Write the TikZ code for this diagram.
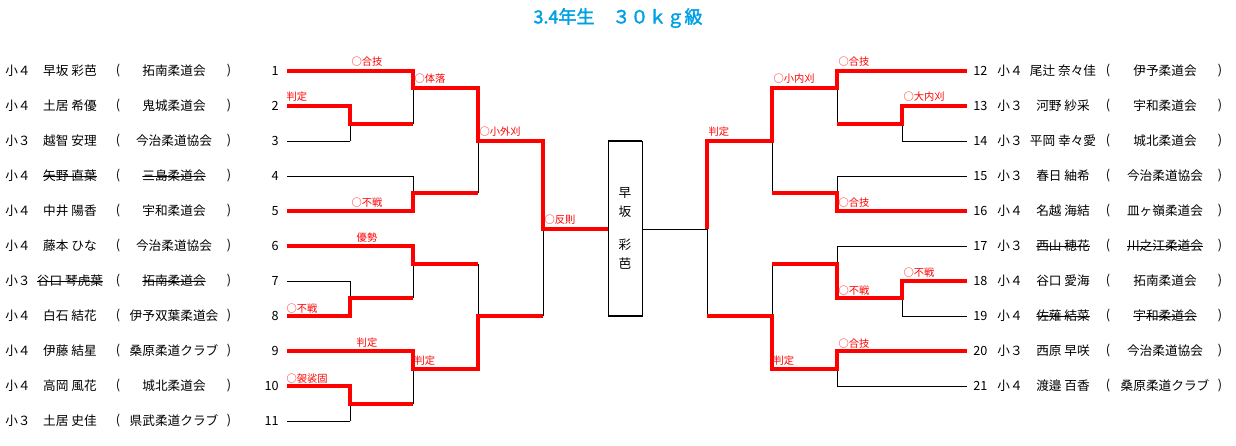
\documentclass[tikz,border=0pt]{standalone}
\usepackage{fontspec}
\setmainfont{Noto Sans CJK JP}[BoldFont=Noto Sans CJK JP,BoldFeatures={FakeBold=2}]
\definecolor{wincol}{RGB}{255,0,0}
\definecolor{titlecol}{RGB}{0,160,230}
\tikzset{
  loser/.style={line width=0.6pt},
  winner/.style={wincol, line width=2.3pt, line join=miter},
  cell/.style={inner sep=0pt, font=\fontsize{9.5}{10}\selectfont},
  plain/.style={},
  struck/.style={path picture={\draw[line width=0.6pt] (path picture bounding box.west) -- (path picture bounding box.east);}},
  how/.style={wincol, inner sep=1pt, font=\fontsize{7.7}{8}\selectfont},
}
\begin{document}
\begin{tikzpicture}[x=0.75pt,y=-0.75pt]
        \useasboundingbox (0,0) rectangle (1236,446);

        \node[titlecol, font=\fontsize{13.5}{15}\selectfont\bfseries] (title) at (618,18) {3.4年生　３０ｋｇ級};

        % left side entries
        \foreach \n/\y/\g/\nm/\cl/\s in {1/71/小４/早坂 彩芭/拓南柔道会/plain, 2/106/小４/土居 希優/鬼城柔道会/plain,
            3/141/小３/越智 安理/今治柔道協会/plain, 4/176/小４/矢野 直葉/三島柔道会/struck,
            5/211/小４/中井 陽香/宇和柔道会/plain, 6/246/小４/藤本 ひな/今治柔道協会/plain,
            7/281/小３/谷口 琴虎葉/拓南柔道会/struck, 8/316/小４/白石 結花/伊予双葉柔道会/plain,
            9/351/小４/伊藤 結星/桑原柔道クラブ/plain, 10/386/小４/高岡 風花/城北柔道会/plain,
            11/421/小３/土居 史佳/県武柔道クラブ/plain} {
            \node[cell] (g\n) at (18,\y) {\g};
            \node[cell,\s] (nm\n) at (70,\y) {\nm};
            \node[cell] at (118,\y) {(};
            \node[cell,\s] (cl\n) at (174,\y) {\cl};
            \node[cell] at (229,\y) {)};
            \node[cell, anchor=east] (no\n) at (279,\y) {\n};
        }

        % right side entries
        \foreach \n/\y/\g/\nm/\cl/\s in {12/71/小４/尾辻 奈々佳/伊予柔道会/plain, 13/106/小３/河野 紗采/宇和柔道会/plain,
            14/141/小３/平岡 幸々愛/城北柔道会/plain, 15/176/小３/春日 紬希/今治柔道協会/plain,
            16/211/小４/名越 海結/皿ヶ嶺柔道会/plain, 17/246/小３/西山 穂花/川之江柔道会/struck,
            18/281/小４/谷口 愛海/拓南柔道会/plain, 19/316/小４/佐薙 結菜/宇和柔道会/struck,
            20/351/小３/西原 早咲/今治柔道協会/plain, 21/386/小４/渡邉 百香/桑原柔道クラブ/plain} {
            \node[cell, anchor=west] (no\n) at (973,\y) {\n};
            \node[cell] (g\n) at (1010,\y) {\g};
            \node[cell,\s] (nm\n) at (1063,\y) {\nm};
            \node[cell] at (1108,\y) {(};
            \node[cell,\s] (cl\n) at (1165,\y) {\cl};
            \node[cell] at (1220,\y) {)};
        }

        % thin bracket lines
        \foreach \y/\xe in {71/413,106/350,141/350,176/413,211/413,246/413,281/350,316/350,351/413,386/350,421/350}
            \draw[loser] (287,\y) -- (\xe,\y);
        \foreach \y/\xs in {71/837,106/902,141/902,176/837,211/837,246/837,281/902,316/902,351/837,386/837}
            \draw[loser] (\xs,\y) -- (967,\y);
        \foreach \x/\ya/\yb in {350/106/141,413/71/124,413/176/211,478/88/193,350/281/316,413/246/298,350/386/421,
            413/351/404,478/264/369,543/141/316,902/106/141,837/71/124,837/176/211,772/88/193,902/281/316,
            837/246/298,837/351/386,772/264/369,707/141/316}
            \draw[loser] (\x,\ya) -- (\x,\yb);

        % final box
        \draw[loser] (608,141) rectangle (642,316);
        \draw[line width=1.8pt] (608,141) -- (642,141);
        \draw[line width=1.8pt] (608,316) -- (642,316);
        \node[cell] (c1) at (625,193) {早};
        \node[cell] (c2) at (625,212) {坂};
        \node[cell] (c3) at (625,245) {彩};
        \node[cell] (c4) at (625,264) {芭};
        \draw[loser] (642,229) -- (707,229);

        % winners, left
        \draw[winner] (287,71) -- (413,71) -- (413,88) -- (478,88) -- (478,141) -- (543,141) -- (543,229) -- (608,229);
        \draw[winner] (287,106) -- (350,106) -- (350,124) -- (413,124);
        \draw[winner] (287,211) -- (413,211) -- (413,193) -- (478,193);
        \draw[winner] (287,246) -- (413,246) -- (413,264) -- (478,264);
        \draw[winner] (287,316) -- (350,316) -- (350,298) -- (413,298);
        \draw[winner] (287,351) -- (413,351) -- (413,369) -- (478,369) -- (478,316) -- (543,316);
        \draw[winner] (287,386) -- (350,386) -- (350,404) -- (413,404);

        % winners, right
        \draw[winner] (967,71) -- (837,71) -- (837,88) -- (772,88) -- (772,141) -- (707,141) -- (707,229);
        \draw[winner] (967,106) -- (902,106) -- (902,124) -- (837,124);
        \draw[winner] (967,211) -- (837,211) -- (837,193) -- (772,193);
        \draw[winner] (967,281) -- (902,281) -- (902,298) -- (837,298) -- (837,264) -- (772,264);
        \draw[winner] (967,351) -- (837,351) -- (837,369) -- (772,369) -- (772,316) -- (707,316);

        % results
        \node[how] at (367,62) {○合技};
        \node[how, anchor=west] at (413,79) {○体落};
        \node[how, anchor=west] at (285,97) {判定};
        \node[how, anchor=west] at (478,132) {○小外刈};
        \node[how] at (367,203) {○不戦};
        \node[how, anchor=west] at (543,220) {○反則};
        \node[how] at (367,238) {優勢};
        \node[how, anchor=west] at (285,309) {○不戦};
        \node[how] at (367,343) {判定};
        \node[how, anchor=west] at (413,361) {判定};
        \node[how, anchor=west] at (285,379) {○袈裟固};
        \node[how, anchor=west] at (837,62) {○合技};
        \node[how, anchor=west] at (772,79) {○小内刈};
        \node[how, anchor=west] at (902,97) {○大内刈};
        \node[how, anchor=west] at (707,132) {判定};
        \node[how, anchor=west] at (837,203) {○合技};
        \node[how, anchor=west] at (902,273) {○不戦};
        \node[how, anchor=west] at (837,291) {○不戦};
        \node[how, anchor=west] at (837,344) {○合技};
        \node[how, anchor=west] at (772,361) {判定};
\end{tikzpicture}
\end{document}
